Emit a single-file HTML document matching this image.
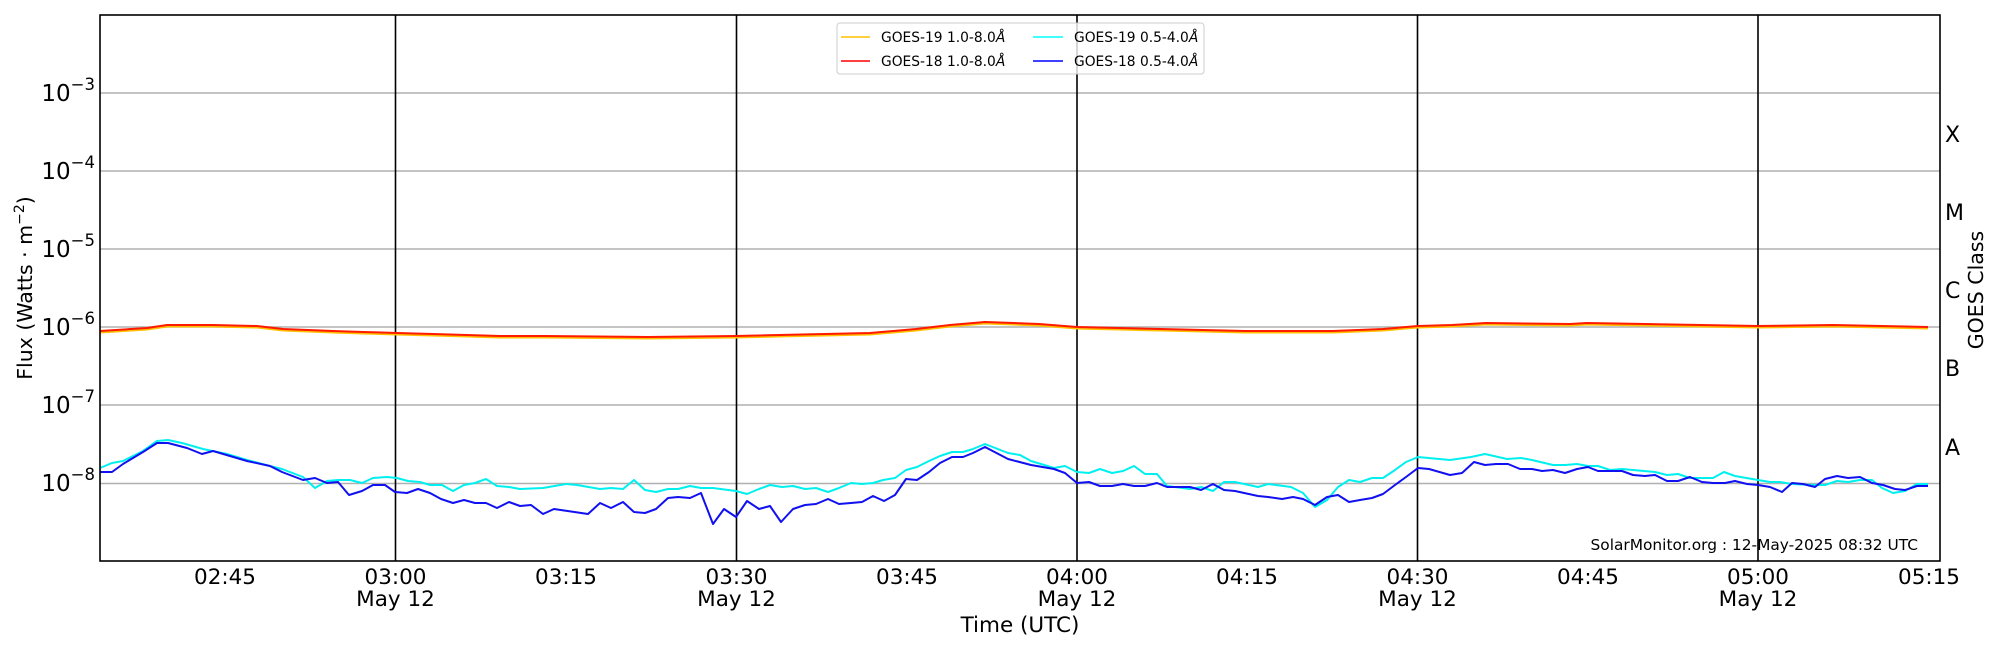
<!DOCTYPE html>
<html><head><meta charset="utf-8"><style>
html,body{margin:0;padding:0;background:#fff;}
svg{display:block;font-family:"DejaVu Sans","Liberation Sans",sans-serif;}
</style></head><body>
<svg width="2000" height="650" viewBox="0 0 2000 650" xmlns="http://www.w3.org/2000/svg">
<rect width="2000" height="650" fill="#fff"/>
<g stroke="#b0b0b0" stroke-width="1.5">
<line x1="100" y1="93" x2="1940" y2="93"/>
<line x1="100" y1="171" x2="1940" y2="171"/>
<line x1="100" y1="249" x2="1940" y2="249"/>
<line x1="100" y1="327" x2="1940" y2="327"/>
<line x1="100" y1="405" x2="1940" y2="405"/>
<line x1="100" y1="483.5" x2="1940" y2="483.5"/>
</g>
<g stroke="#000" stroke-width="1.6">
<line x1="395.5" y1="15" x2="395.5" y2="561"/>
<line x1="736.5" y1="15" x2="736.5" y2="561"/>
<line x1="1077" y1="15" x2="1077" y2="561"/>
<line x1="1417.5" y1="15" x2="1417.5" y2="561"/>
<line x1="1758" y1="15" x2="1758" y2="561"/>
</g>
<g id="ticks" stroke="#000" stroke-width="1"></g>
<g fill="none" stroke-width="2" stroke-linejoin="round">
<polyline stroke="#ffc000" transform="translate(0,1.5)" points="100,331 147,328 167,325 213,325 257,326 283,329 333,331 363,332 397,333 433,334 500,336 545,336 648,337 736,336 870,333 916,329 950,325 985,322 1039,324 1077,327 1161,329 1245,331 1333,331 1383,329 1418,326 1452,325 1486,323 1570,324 1587,323 1758,326 1833,325 1928,327"/>
<polyline stroke="#ff1a00" points="100,331 147,328 167,325 213,325 257,326 283,329 333,331 363,332 397,333 433,334 500,336 545,336 648,337 736,336 870,333 916,329 950,325 985,322 1039,324 1077,327 1161,329 1245,331 1333,331 1383,329 1418,326 1452,325 1486,323 1570,324 1587,323 1758,326 1833,325 1928,327"/>
<polyline stroke="#00f0f0" points="100,468 112,463 123,461 143,451 157,441 168,440 182,443 203,449 227,454 247,460 270,466 282,469 303,477 315,488 327,481 338,480 350,480 362,483 373,478 387,477 397,478 408,481 420,482 430,485 442,485 453,491 464,485 475,483 486,479 497,486 509,487 520,489 543,488 566,484 577,485 600,489 611,488 623,489 634,480 645,490 656,492 668,489 678,489 690,486 701,488 713,488 736,491 747,494 759,489 770,485 782,487 793,486 805,489 816,488 828,492 839,488 851,483 862,484 873,483 883,480 895,478 906,470 917,467 929,461 940,456 952,452 963,452 973,449 985,444 1008,453 1020,455 1031,461 1054,468 1065,466 1077,472 1089,473 1100,469 1112,473 1123,471 1134,466 1145,474 1157,474 1167,486 1190,489 1201,487 1213,491 1224,482 1235,482 1258,487 1268,484 1291,487 1303,493 1315,507 1327,500 1338,487 1349,480 1360,482 1372,478 1383,478 1395,470 1406,462 1418,457 1450,460 1471,457 1485,454 1507,459 1521,458 1532,460 1553,465 1565,465 1577,464 1588,466 1598,466 1610,470 1622,469 1633,470 1655,472 1667,475 1678,474 1690,478 1713,478 1724,472 1735,476 1758,480 1770,482 1780,482 1792,484 1813,485 1825,485 1837,481 1848,482 1860,480 1872,480 1882,488 1893,493 1905,491 1917,484 1928,484"/>
<polyline stroke="#1010f0" points="100,472 112,472 123,464 143,452 157,443 168,443 187,448 202,454 213,451 247,461 270,466 282,472 303,480 315,478 327,483 338,482 349,495 362,491 373,485 385,485 395,492 407,493 418,489 430,493 441,499 453,503 464,500 475,503 486,503 497,508 509,502 520,506 531,505 543,514 554,509 588,514 600,503 611,508 623,502 634,512 645,513 656,509 668,498 678,497 690,498 701,493 713,524 724,509 736,517 747,501 759,509 770,506 781,522 793,509 805,505 816,504 828,499 839,504 851,503 862,502 873,496 884,501 895,495 906,479 917,480 929,472 940,463 952,457 963,457 973,453 985,447 1008,459 1031,465 1054,469 1065,473 1077,483 1089,482 1100,486 1112,486 1123,484 1134,486 1145,486 1157,483 1167,487 1190,487 1201,490 1213,484 1224,490 1235,491 1258,496 1268,497 1282,499 1293,497 1303,499 1315,505 1327,497 1338,495 1349,502 1360,500 1372,498 1383,494 1395,485 1406,477 1418,468 1429,469 1450,475 1462,473 1474,462 1485,465 1496,464 1508,464 1520,469 1532,469 1542,471 1553,470 1565,473 1577,469 1588,467 1598,471 1622,471 1633,475 1645,476 1655,475 1667,481 1678,481 1690,477 1702,482 1713,483 1725,483 1735,481 1747,484 1758,485 1770,487 1782,492 1792,483 1803,484 1815,487 1825,479 1837,476 1848,478 1860,477 1872,483 1883,485 1895,489 1905,490 1917,486 1928,486"/>
</g>
<rect x="100" y="15" width="1840" height="546" fill="none" stroke="#000" stroke-width="1.6"/>
<rect x="837" y="23" width="367" height="51" rx="3" fill="#fff" fill-opacity="0.8" stroke="#ccc" stroke-width="1"/>
<g stroke-width="1.5">
<line x1="841" y1="37" x2="870" y2="37" stroke="#ffc000"/>
<line x1="841" y1="61" x2="870" y2="61" stroke="#ff0000"/>
<line x1="1033" y1="37" x2="1063" y2="37" stroke="#00ffff"/>
<line x1="1033" y1="61" x2="1063" y2="61" stroke="#0000ff"/>
</g>
<g font-size="13.8" fill="#000">
<text x="881" y="42">GOES-19 1.0-8.0<tspan font-style="italic">Å</tspan></text>
<text x="881" y="66">GOES-18 1.0-8.0<tspan font-style="italic">Å</tspan></text>
<text x="1074" y="42">GOES-19 0.5-4.0<tspan font-style="italic">Å</tspan></text>
<text x="1074" y="66">GOES-18 0.5-4.0<tspan font-style="italic">Å</tspan></text>
</g>
<g font-size="23" fill="#000" text-anchor="end">
<text x="95" y="101">10<tspan font-size="16.5" dy="-11">−3</tspan></text>
<text x="95" y="179">10<tspan font-size="16.5" dy="-11">−4</tspan></text>
<text x="95" y="257">10<tspan font-size="16.5" dy="-11">−5</tspan></text>
<text x="95" y="335">10<tspan font-size="16.5" dy="-11">−6</tspan></text>
<text x="95" y="413">10<tspan font-size="16.5" dy="-11">−7</tspan></text>
<text x="95" y="491">10<tspan font-size="16.5" dy="-11">−8</tspan></text>
</g>
<text transform="translate(32,288) rotate(-90)" font-size="20.5" text-anchor="middle">Flux (Watts · m<tspan font-size="14" dy="-8">−2</tspan><tspan dy="8">)</tspan></text>
<g font-size="21.5" text-anchor="middle" fill="#000">
<text x="225" y="584">02:45</text>
<text x="395.5" y="584">03:00</text><text x="395.5" y="606">May 12</text>
<text x="566" y="584">03:15</text>
<text x="736.5" y="584">03:30</text><text x="736.5" y="606">May 12</text>
<text x="907" y="584">03:45</text>
<text x="1077" y="584">04:00</text><text x="1077" y="606">May 12</text>
<text x="1247" y="584">04:15</text>
<text x="1417.5" y="584">04:30</text><text x="1417.5" y="606">May 12</text>
<text x="1588" y="584">04:45</text>
<text x="1758" y="584">05:00</text><text x="1758" y="606">May 12</text>
<text x="1929" y="584">05:15</text>
<text x="1020" y="632">Time (UTC)</text>
</g>
<g font-size="22" fill="#000">
<text x="1945" y="142">X</text>
<text x="1945" y="220">M</text>
<text x="1945" y="298">C</text>
<text x="1945" y="376">B</text>
<text x="1945" y="455">A</text>
</g>
<text transform="translate(1983,290) rotate(-90)" font-size="20.5" text-anchor="middle">GOES Class</text>
<text x="1918" y="550" font-size="15.4" text-anchor="end">SolarMonitor.org : 12-May-2025 08:32 UTC</text>
<script>
(function(){
var g=document.getElementById('ticks'),s='';
for(var d=-9;d<-2;d++){
 for(var k=1;k<10;k++){
  var y=561-(d+9+Math.log10(k))*78;
  if(y<15)continue;
  var L=(k==1)?11:7;
  s+='<line x1="100" y1="'+y+'" x2="'+(100+L)+'" y2="'+y+'"/>';
  s+='<line x1="1940" y1="'+y+'" x2="'+(1940-L)+'" y2="'+y+'"/>';
 }
}
var xs=[225,566,907,1247,1588,1929];
xs.forEach(function(x){s+='<line x1="'+x+'" y1="561" x2="'+x+'" y2="554"/>';});
g.innerHTML=s;
})();
</script>
</svg>
</body></html>
